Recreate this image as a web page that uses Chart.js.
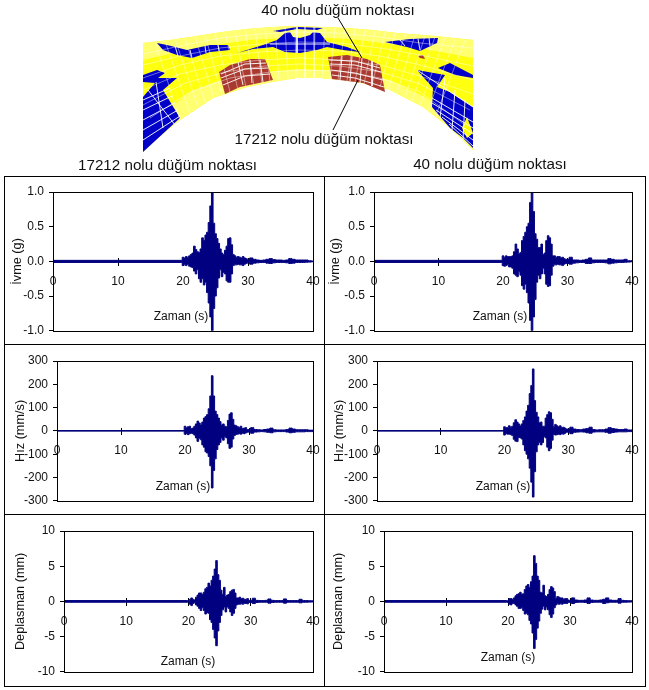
<!DOCTYPE html>
<html lang="tr"><head><meta charset="utf-8">
<script src="https://cdn.jsdelivr.net/npm/chart.js@4"></script>
<style>
html,body{margin:0;padding:0;background:#fff;width:649px;height:690px;overflow:hidden}
canvas{position:absolute;display:block}
.t{position:absolute;font-family:"Liberation Sans",Arial,sans-serif;color:#111;white-space:nowrap;transform:translate(-50%,-50%);z-index:5}
.h{font-size:15.2px}.z{font-size:12px}
.l{position:absolute;background:#000}
</style></head><body>
<script>
// time axis (s)
const time=[0,19.75,
20,20.25,20.5,20.75,21,21.25,21.5,21.75,22,22.25,22.5,22.75,23,23.25,23.5,23.75,24,24.25,24.5,24.75,
25,25.25,25.5,25.75,26,26.25,26.5,26.75,27,27.25,27.5,27.75,28,28.25,28.5,28.75,29,29.25,29.5,29.75,30,
30.5,31,31.5,32,32.5,33,33.5,34,34.5,35,35.5,36,36.5,37,37.5,38,38.5,39,39.5,40];

// node 17212 acceleration envelope (g)
const acc17212Up=[.015,.015,
.06,.05,.07,.06,.08,.1,.12,.22,.17,.14,.13,.18,.34,.3,.38,.42,.56,.8,1,.55,
.4,.33,.26,.18,.12,.1,.16,.22,.33,.34,.24,.1,.08,.06,.07,.06,.05,.07,.05,.04,.02,
.05,.03,.02,.015,.02,.03,.04,.025,.02,.02,.015,.02,.04,.03,.02,.02,.02,.02,.01,.005];
const acc17212Low=[-.015,-.015,
-.06,-.05,-.06,-.04,-.07,-.08,-.09,-.14,-.18,-.12,-.25,-.3,-.25,-.34,-.3,-.45,-.6,-.8,-1,-.68,
-.5,-.38,-.24,-.12,-.22,-.16,-.18,-.28,-.3,-.3,-.18,-.06,-.05,-.05,-.04,-.05,-.05,-.06,-.04,-.03,-.02,
-.04,-.025,-.02,-.015,-.015,-.025,-.03,-.02,-.015,-.015,-.015,-.02,-.03,-.025,-.015,-.015,-.015,-.012,-.01,-.005];
// node 40 acceleration envelope (g)
const acc40Up=[.015,.015,
.08,.06,.08,.07,.07,.07,.08,.14,.25,.18,.11,.13,.3,.36,.42,.5,.55,.85,1,.72,
.4,.32,.2,.2,.25,.1,.12,.3,.37,.34,.25,.08,.08,.06,.07,.07,.05,.06,.04,.03,.03,
.06,.02,.02,.015,.02,.03,.05,.02,.02,.02,.02,.02,.04,.03,.02,.02,.02,.03,.01,.01];
const acc40Low=[-.015,-.015,
-.06,-.07,-.06,-.05,-.08,-.08,-.1,-.18,-.2,-.22,-.15,-.2,-.35,-.4,-.33,-.45,-.6,-.85,-1,-.8,
-.55,-.3,-.2,-.25,-.18,-.1,-.18,-.33,-.36,-.35,-.2,-.07,-.05,-.05,-.04,-.05,-.05,-.06,-.04,-.03,-.03,
-.04,-.025,-.02,-.015,-.015,-.03,-.03,-.02,-.015,-.015,-.015,-.02,-.035,-.025,-.02,-.015,-.015,-.012,-.01,-.005];
// node 17212 velocity envelope (mm/s)
const vel17212Up=[.5,.5,
20,14,18,20,10,12,20,30,42,34,25,38,55,62,70,95,150,237,150,85,
70,55,40,25,30,20,18,45,72,78,50,25,22,18,15,20,10,12,14,6,6,
14,6,5,4,6,8,12,5,4,4,4,6,12,8,5,5,5,5,3,3];
const vel17212Low=[-.5,-.5,
-14,-12,-16,-12,-10,-12,-18,-30,-45,-32,-38,-60,-70,-90,-95,-110,-150,-245,-170,-120,
-80,-60,-50,-30,-40,-25,-30,-55,-75,-70,-35,-20,-15,-14,-12,-14,-10,-12,-9,-6,-5,
-10,-5,-4,-3,-4,-6,-8,-4,-3,-3,-3,-5,-8,-6,-4,-4,-4,-3,-3,-3];
// node 40 velocity envelope (mm/s)
const vel40Up=[.5,.5,
18,14,15,22,16,20,35,48,38,30,22,30,45,60,85,110,160,195,266,130,
80,60,35,38,20,20,55,70,82,78,50,18,28,22,18,22,14,16,12,8,8,
16,8,6,5,8,10,16,6,4,5,5,8,14,10,8,6,6,8,4,4];
const vel40Low=[-.5,-.5,
-18,-12,-14,-14,-16,-20,-36,-44,-46,-28,-30,-35,-60,-85,-100,-120,-160,-220,-284,-175,
-90,-60,-50,-60,-50,-25,-30,-70,-85,-75,-40,-15,-18,-16,-14,-16,-12,-14,-10,-6,-6,
-12,-6,-5,-4,-5,-8,-10,-5,-4,-4,-4,-6,-10,-7,-5,-4,-4,-4,-3,-3];
// node 17212 displacement envelope (mm)
const dis17212Up=[.12,.12,
.1,.3,.5,.3,.2,.6,.9,1.2,1.2,1,1.3,1.8,2,2.6,2.2,3,3.6,4.6,5.8,3.8,
3,1.6,1,2,.7,.9,1,1.4,1.6,1.7,1.2,.5,.5,.6,.4,.45,.3,.3,.4,.15,.15,
.45,.15,.12,.12,.15,.35,.15,.12,.12,.12,.35,.12,.12,.12,.12,.3,.12,.12,.1,.08];
const dis17212Low=[-.12,-.12,
-.1,-.4,-.6,-.3,-.2,-.5,-.7,-1,-1.3,-.9,-1.3,-1.8,-1.6,-1.7,-2.6,-3,-4,-5.2,-6.3,-4.2,
-3,-2,-1.2,-.8,-1.5,-.8,-1,-1.5,-2,-1.7,-1,-.5,-.4,-.4,-.35,-.4,-.3,-.3,-.35,-.15,-.15,
-.3,-.15,-.12,-.12,-.12,-.25,-.15,-.12,-.12,-.12,-.25,-.12,-.12,-.12,-.12,-.2,-.12,-.12,-.1,-.08];
// node 40 displacement envelope (mm)
const dis40Up=[.12,.12,
.1,.4,.4,.3,.5,.8,1,1.1,1.3,1,1.1,1.7,2.2,2.4,2,2.8,3.6,6.5,5.4,3.6,
3,1.3,1.2,2.3,.8,.7,1,1.7,2.1,1.9,1.4,.4,.7,.6,.5,.5,.3,.4,.4,.2,.15,
.5,.2,.15,.15,.2,.5,.2,.15,.15,.2,.3,.5,.2,.15,.15,.4,.15,.12,.1,.1];
const dis40Low=[-.12,-.12,
-.15,-.4,-.5,-.3,-.3,-.5,-.7,-1,-1,-.9,-1.3,-1.8,-1.7,-1.9,-2.7,-3.2,-4.5,-6.7,-5.4,-3.8,
-2.8,-1.7,-1.1,-.7,-1.2,-.8,-1.2,-1.9,-2.3,-1.8,-.9,-.5,-.35,-.4,-.35,-.4,-.3,-.3,-.3,-.15,-.15,
-.3,-.15,-.12,-.12,-.15,-.3,-.15,-.12,-.12,-.12,-.3,-.2,-.12,-.12,-.12,-.25,-.12,-.12,-.1,-.08];

// finite element model sketch, outlines
const meshArch=[[143,43],[170,40],[197,36],[222,32],[247,29],[272,27],[297,26],[322,27],[347,28],[372,30],[397,33],[435,36],[473,40],[473,150],[450,128],[423,107],[390,90],[367,84],[343,80],[320,78],[297,78],[272,82],[247,87],[213,98],[195,110],[180,120],[160,136],[143,152]];
const meshPaleBands=[
[[143,43],[170,40],[197,36],[222,32],[247,29],[272,27],[297,26],[322,27],[347,28],[372,30],[397,33],[435,36],[473,40],[473,58],[430,50],[390,44],[350,39],[300,37],[250,40],[200,47],[143,60]],
[[473,150],[450,128],[423,107],[390,90],[367,84],[343,80],[320,78],[297,78],[272,82],[247,87],[213,98],[195,110],[180,120],[160,136],[143,152],[143,130],[165,112],[190,92],[215,82],[250,74],[297,69],[345,71],[390,80],[425,97],[455,118],[473,135]]];
const meshBlue=[
[[157,43],[167,45],[187,50],[210,45],[228,45],[230,50],[210,52],[192,58],[177,55],[163,50]],
[[237,53],[263,45],[277,40],[285,33],[290,32],[293,37],[300,38],[310,35],[313,32],[320,33],[327,42],[347,47],[360,52],[343,50],[327,47],[317,50],[300,53],[285,52],[273,47],[253,49]],
[[273,31],[297,27],[323,28],[317,30],[297,29],[280,32]],
[[385,42],[410,39],[438,38],[437,43],[420,51],[407,47]],
[[143,75],[157,70],[165,73],[158,78],[177,78],[163,90],[180,118],[143,152],[143,97],[155,83],[143,82]],
[[438,68],[450,63],[473,75],[473,78],[455,75]],
[[417,70],[445,75],[437,87],[450,92],[473,107],[473,148],[463,138],[450,128],[432,107],[433,88]]];
const meshRed=[
[[219,72],[230,65],[250,59],[265,59],[273,80],[240,87],[225,94]],
[[328,57],[347,55],[367,59],[380,65],[385,92],[363,83],[332,79]],
[[418,56],[423,55],[425,59],[420,58]]];
const meshPatch=[[467,117],[473,133],[467,138],[462,128]];
const meshGridLines=[
[[155,42],[180,120]],[[165,41],[190,113]],[[175,39],[198,107]],[[185,38],[205,102]],[[195,37],[214,98]],[[205,35],[222,95]],[[215,33],[230,92]],[[225,32],[238,90]],[[235,31],[246,88]],[[245,29],[254,86]],[[255,28],[262,84]],[[265,28],[270,83]],[[275,27],[279,81]],[[285,27],[288,79]],[[295,26],[296,78]],[[305,26],[305,78]],[[315,27],[314,78]],[[325,27],[322,78]],[[335,28],[330,79]],[[345,28],[338,80]],[[355,29],[347,81]],[[365,30],[355,82]],[[375,31],[364,84]],[[385,32],[372,85]],[[395,33],[380,87]],[[405,34],[388,90]],[[415,35],[397,93]],[[425,36],[405,97]],[[435,37],[412,101]],[[445,38],[420,105]],[[455,39],[428,110]],[[465,40],[436,115]],
[[143,54],[180,46],[220,38],[260,34],[300,32],[340,33],[380,37],[420,43],[473,48]],
[[143,65],[180,56],[220,48],[260,44],[300,42],[340,43],[380,48],[420,55],[473,66]],
[[143,78],[180,65],[220,56],[260,52],[300,50],[340,51],[380,56],[420,65],[473,80]],
[[143,90],[180,74],[220,65],[260,60],[300,58],[340,60],[380,65],[420,76],[473,94]],
[[143,105],[185,83],[225,72],[265,66],[300,64],[340,66],[380,72],[420,84],[470,110]],
[[150,118],[190,92],[230,78],[270,72],[300,70],[340,71],[380,78],[420,92],[465,125]]];
const meshWhiteLines=[
[[221,78],[245,69],[268,68]],[[223,85],[245,76],[270,74]],[[238,62],[243,85]],[[250,60],[252,83]],[[260,60],[263,82]],[[221,74],[245,64],[266,63]],
[[330,64],[355,65],[381,72]],[[331,70],[355,73],[383,80]],[[332,75],[355,78],[384,87]],[[342,56],[340,80]],[[352,56],[350,81]],[[362,58],[360,83]],[[372,61],[372,86]],[[329,60],[355,61],[380,68]],
[[143,100],[170,88]],[[143,110],[172,96]],[[143,120],[175,103]],[[143,130],[178,110]],[[143,140],[180,116]],[[148,90],[175,125]],[[156,82],[163,128]],
[[432,98],[473,122]],[[432,103],[473,128]],[[436,110],[473,134]],[[442,117],[473,140]],[[449,124],[473,146]],[[445,78],[440,118]],[[455,90],[452,130]],[[465,100],[463,140]],[[417,70],[473,107]],
[[175,46],[178,56]],[[190,50],[192,58]],[[205,46],[206,53]],[[218,45],[219,51]],[[297,27],[297,53]],[[270,44],[330,44]],[[400,40],[405,46]],[[418,39],[420,50]],[[429,38],[430,46]]];
const leaderLines=[[[338,18],[362,58]],[[358,80],[333,130]]];

const headings=[["40 nolu düğüm noktası",338,9],["17212 nolu düğüm noktası",324,138],["17212 nolu düğüm noktası",167.5,164],["40 nolu düğüm noktası",490,163]];
const xAxisTitle="Zaman (s)";
const navy="#000080";
const FONT='"Liberation Sans",Arial,sans-serif';

function pts(a){return a.map(p=>({x:p[0],y:p[1]}));}
function shape(a,color){return {data:pts(a),showLine:true,fill:'shape',backgroundColor:color,borderWidth:0,pointRadius:0,tension:0};}
function stroke(a,color,w){return {data:pts(a),showLine:true,fill:false,borderColor:color,borderWidth:w,pointRadius:0,tension:0};}

function addCanvas(x,y,w,h){
  const c=document.createElement('canvas');c.width=w;c.height=h;
  c.style.left=x+'px';c.style.top=y+'px';c.style.width=w+'px';c.style.height=h+'px';
  document.body.appendChild(c);return c;
}
function addLine(x,y,w,h){const d=document.createElement('div');d.className='l';
  d.style.cssText=`left:${x}px;top:${y}px;width:${w}px;height:${h}px`;document.body.appendChild(d);}
function addText(txt,cls,x,y){const d=document.createElement('div');d.className='t '+cls;d.textContent=txt;
  d.style.left=x+'px';d.style.top=y+'px';document.body.appendChild(d);}

// sketch of the model
new Chart(addCanvas(130,0,360,160),{type:'scatter',
  data:{datasets:[
    ...leaderLines.map(a=>stroke(a,'#000',1)),
    ...meshWhiteLines.map(a=>stroke(a,'rgba(255,255,255,.9)',1)),
    ...meshGridLines.map(a=>stroke(a,'rgba(255,255,255,.42)',1)),
    shape(meshPatch,'#ffff00'),
    ...meshRed.map(a=>shape(a,'#aa3a30')),
    ...meshBlue.map(a=>shape(a,'#0000c8')),
    ...meshPaleBands.map(a=>shape(a,'#ffff70')),
    shape(meshArch,'#ffff10')]},
  options:{responsive:false,animation:false,devicePixelRatio:1,layout:{padding:0},
    plugins:{legend:{display:false},tooltip:{enabled:false}},
    scales:{x:{type:'linear',min:130,max:490,display:false},y:{type:'linear',min:0,max:160,reverse:true,display:false}}}});

const boxPlugin={id:'plotBox',afterDraw(c){const a=c.chartArea,g=c.ctx;g.save();g.strokeStyle='#000';g.lineWidth=1;
  g.strokeRect(Math.round(a.left)+.5,Math.round(a.top)+.5,Math.round(a.width),Math.round(a.height));g.restore();}};

function panel(o){
  const top=o.cTop,H=o.bottom-top+13;
  new Chart(addCanvas(o.cLeft,top,o.cWidth,H),{type:'line',plugins:[boxPlugin],
    data:{datasets:[
      {data:time.map((t,i)=>({x:t,y:o.up[i]})),fill:'+1',stepped:'middle',backgroundColor:navy,borderColor:navy,borderWidth:1,pointRadius:0,tension:0},
      {data:time.map((t,i)=>({x:t,y:o.low[i]})),fill:false,stepped:'middle',borderColor:navy,borderWidth:1,pointRadius:0,tension:0}]},
    options:{responsive:false,animation:false,devicePixelRatio:1,
      layout:{padding:{left:0,top:o.top-top+1,right:o.cLeft+o.cWidth-o.right,bottom:8}},
      plugins:{legend:{display:false},tooltip:{enabled:false}},
      scales:{
        x:{type:'linear',position:{y:0},min:0,max:40,
           ticks:{stepSize:10,color:'#111',font:{family:FONT,size:12},padding:9,maxRotation:0,autoSkip:false},
           grid:{drawOnChartArea:false,color:'#000',tickLength:4},border:{color:'#000'},
           afterFit(s){s.height=0;}},
        x2:{type:'linear',axis:'x',position:{y:0},min:0,max:40,
           ticks:{display:false,stepSize:10},
           grid:{drawOnChartArea:false,color:'#000',tickLength:-3},border:{display:false},
           afterFit(s){s.height=0;}},
        y:{type:'linear',min:o.min,max:o.max,
           ticks:{stepSize:o.step,color:'#111',font:{family:FONT,size:12},padding:5,
                  callback:v=>o.dec?v.toFixed(o.dec):String(v)},
           grid:{drawOnChartArea:false,color:'#000',tickLength:4},border:{color:'#000'},
           title:{display:true,text:o.yTitle,color:'#111',font:{family:FONT,size:12.7},
                  padding:{top:o.titleX-o.cLeft-7.6,bottom:0}},
           afterFit(s){s.width=o.left-o.cLeft;}}
      }}});
  addText(xAxisTitle,'z',o.zx,o.zy);
}
const L={cLeft:5,cWidth:324},R={cLeft:325,cWidth:323};
panel({...L,cTop:177,left:53,right:313,top:191,bottom:330,min:-1,max:1,step:.5,dec:1,up:acc17212Up,low:acc17212Low,yTitle:'İvme (g)',titleX:17,zx:181,zy:316});
panel({...R,cTop:177,left:374,right:632,top:191,bottom:330,min:-1,max:1,step:.5,dec:1,up:acc40Up,low:acc40Low,yTitle:'İvme (g)',titleX:335,zx:500,zy:316});
panel({...L,cTop:345,left:57,right:313,top:360,bottom:500,min:-300,max:300,step:100,up:vel17212Up,low:vel17212Low,yTitle:'Hız (mm/s)',titleX:20,zx:183,zy:486});
panel({...R,cTop:345,left:377,right:632,top:360,bottom:500,min:-300,max:300,step:100,up:vel40Up,low:vel40Low,yTitle:'Hız (mm/s)',titleX:339,zx:503,zy:486});
panel({...L,cTop:515,left:64,right:313,top:530,bottom:671,min:-10,max:10,step:5,up:dis17212Up,low:dis17212Low,yTitle:'Deplasman (mm)',titleX:20,zx:188,zy:661});
panel({...R,cTop:515,left:384,right:632,top:530,bottom:671,min:-10,max:10,step:5,up:dis40Up,low:dis40Low,yTitle:'Deplasman (mm)',titleX:338,zx:508,zy:657});

headings.forEach(h=>addText(h[0],'h',h[1],h[2]));
// table frame
addLine(4,176,641,1);addLine(4,344,641,1);addLine(4,514,641,1);addLine(4,686,641,1);
addLine(4,176,1,511);addLine(324,176,1,511);addLine(645,176,1,511);
</script>
</body></html>
